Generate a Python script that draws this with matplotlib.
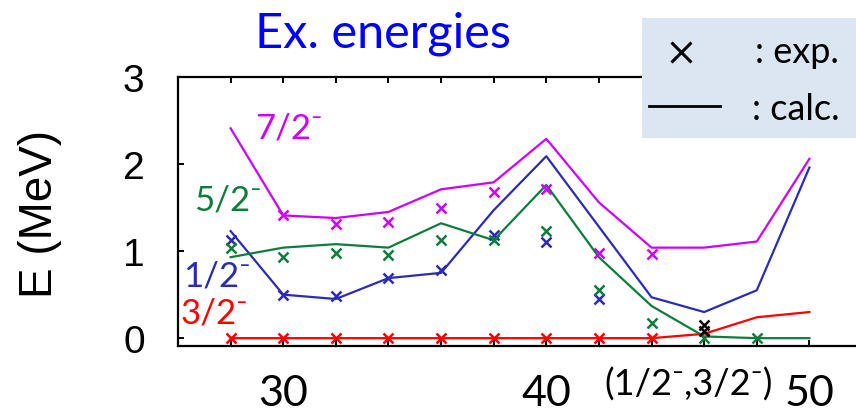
import matplotlib
matplotlib.use("Agg")
import matplotlib.pyplot as plt
from matplotlib.patches import Rectangle
from matplotlib.ticker import MultipleLocator, FixedLocator

# Neutron number and excitation energies (MeV)
N = [28, 30, 32, 34, 36, 38, 40, 42, 44, 46, 48, 50]
calc_72 = [2.41, 1.41, 1.38, 1.45, 1.71, 1.79, 2.29, 1.56, 1.04, 1.04, 1.11, 2.06]
calc_12 = [1.23, 0.50, 0.45, 0.69, 0.75, 1.47, 2.09, 1.28, 0.47, 0.30, 0.55, 1.96]
calc_52 = [0.93, 1.04, 1.08, 1.04, 1.32, 1.125, 1.76, 0.93, 0.37, 0.02, 0.0, 0.0]
calc_32 = [0.0, 0.0, 0.0, 0.0, 0.0, 0.0, 0.0, 0.0, 0.0, 0.05, 0.24, 0.30]

exp_72_N = [30, 32, 34, 36, 38, 40, 42, 44]
exp_72 = [1.41, 1.31, 1.34, 1.49, 1.68, 1.71, 0.98, 0.97]
exp_12_N = [28, 30, 32, 34, 36, 38, 40, 42]
exp_12 = [1.13, 0.50, 0.49, 0.69, 0.78, 1.19, 1.11, 0.45]
exp_52_N = [28, 30, 32, 34, 36, 38, 40, 42, 44, 46, 48]
exp_52 = [1.04, 0.93, 0.98, 0.96, 1.125, 1.125, 1.23, 0.55, 0.17, 0.0, 0.0]
exp_32_N = [28, 30, 32, 34, 36, 38, 40, 42, 44]
exp_32 = [0.0, 0.0, 0.0, 0.0, 0.0, 0.0, 0.0, 0.0, 0.0]
exp_amb_N = [46, 46]
exp_amb = [0.15, 0.08]

x_tick_labels = ["30", "40", "50"]
y_tick_labels = ["0", "1", "2", "3"]

PURPLE = "#cc00ff"
BLUE = "#2b2bb8"
GREEN = "#0e7d3c"
RED = "#ff0000"

W, H = 856, 414
fig = plt.figure(figsize=(W / 100, H / 100), dpi=100)
fig.patch.set_facecolor("white")

# axes box: left 178 px, top 78 px, bottom 347 px; right edge runs off the figure
ax = fig.add_axes([178 / W, (H - 347) / H, 684 / W, (347 - 78) / H])
ax.set_xlim(26, 52)
ax.set_ylim(-0.09, 3.0)

lw = 1.6
ms = 6.5
mew = 1.8
for yv, col in [(calc_72, PURPLE), (calc_12, BLUE), (calc_52, GREEN), (calc_32, RED)]:
    ax.plot(N, yv, color=col, lw=lw, zorder=3)
for xs, ys, col in [(exp_72_N, exp_72, PURPLE), (exp_12_N, exp_12, BLUE),
                    (exp_52_N, exp_52, GREEN), (exp_32_N, exp_32, RED),
                    (exp_amb_N, exp_amb, "black")]:
    ax.plot(xs, ys, ls="none", marker="x", ms=ms, mew=mew, color=col, zorder=4)

for s in ["left", "bottom", "top"]:
    ax.spines[s].set_linewidth(1.6)
ax.spines["right"].set_visible(False)

ax.xaxis.set_major_locator(FixedLocator([30, 40, 50]))
ax.xaxis.set_minor_locator(MultipleLocator(2))
ax.set_xticklabels(x_tick_labels, fontfamily="Lato", fontsize=31)
ax.yaxis.set_major_locator(FixedLocator([0, 1, 2, 3]))
ax.set_yticklabels(y_tick_labels, fontfamily="Liberation Sans", fontsize=28)
ax.tick_params(axis="x", which="both", direction="in", top=True, length=4, width=1.4, pad=20)
ax.tick_params(axis="y", which="both", direction="in", right=False, length=4, width=1.4, pad=24)

# level labels
lab_font = ["Lato", "DejaVu Sans"]
ax.text(28.95, 2.42, "7/2\u207b", color=PURPLE, fontsize=25, family=lab_font, va="center", ha="left")
ax.text(26.6, 1.59, "5/2\u207b", color=GREEN, fontsize=25, family=lab_font, va="center", ha="left")
ax.text(26.2, 0.715, "1/2\u207b", color=BLUE, fontsize=25, family=lab_font, va="center", ha="left")
ax.text(26.1, 0.29, "3/2\u207b", color=RED, fontsize=25, family=lab_font, va="center", ha="left")

fig.text(689 / W, 1 - 385 / H, "(1/2\u207b,3/2\u207b)", fontsize=26, family=lab_font,
         ha="center", va="center", color="black")

# axis title and heading
fig.text(40 / W, 1 - 214 / H, "E (MeV)", rotation=90, fontsize=33,
         family="Liberation Sans", ha="center", va="center")
fig.text(255 / W, 1 - 47 / H, "Ex. energies", fontsize=35, family="Lato",
         color="#0000ff", ha="left", va="baseline")

# key box
fig.add_artist(Rectangle((642 / W, 1 - 139 / H), (W - 642) / W + 0.01, 120 / H,
                         transform=fig.transFigure, facecolor="#dce6f2",
                         edgecolor="none", zorder=5))
fig.add_artist(plt.Line2D([681 / W], [1 - 53 / H], marker="x", ms=15, mew=2.2,
                          color="black", transform=fig.transFigure, zorder=6))
fig.add_artist(plt.Line2D([649 / W, 720 / W], [1 - 107 / H, 1 - 107 / H], lw=2,
                          color="black", transform=fig.transFigure, zorder=6))
fig.text(755 / W, 1 - 63 / H, ": exp.", fontsize=26, family="Lato", ha="left",
         va="baseline", zorder=7)
fig.text(752 / W, 1 - 120 / H, ": calc.", fontsize=26, family="Lato", ha="left",
         va="baseline", zorder=7)

fig.savefig("out.png", dpi=100)
